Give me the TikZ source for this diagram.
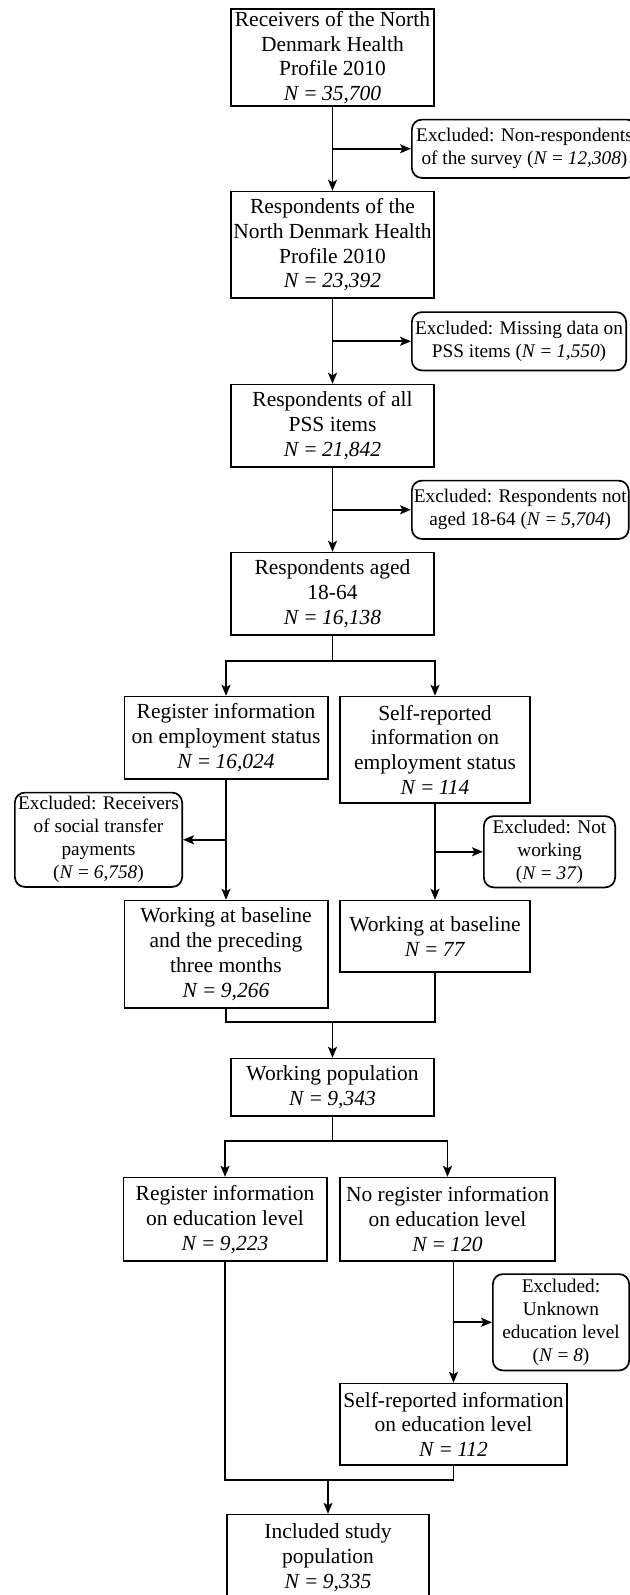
\documentclass[tikz,border=0pt]{standalone}
\usepackage{fontspec}
\setmainfont{Liberation Serif}
\usetikzlibrary{arrows.meta,positioning,calc}
\newcommand{\Nval}[1]{\textit{N} = \textit{#1}}

\begin{document}
\begin{tikzpicture}[
    x=1pt, y=1pt,
    box/.style={draw, line width=1.7pt, align=center, inner sep=2pt,
                minimum width=203.3pt, font=\fontsize{21.5pt}{24.8pt}\selectfont},
    excl/.style={draw, line width=1.7pt, align=center, inner sep=2pt,
                 rounded corners=10pt, font=\fontsize{19.3pt}{23pt}\selectfont},
    arr/.style={-{Stealth[length=11pt,width=9pt,inset=2.5pt]}, line width=1.7pt},
    conn/.style={line width=1.7pt},
  ]
  \useasboundingbox (0,0) rectangle (629,-1595);

  % Main flow
  \node[box, minimum height=95.3pt] (recv) at (332.5,-57.5) {Receivers of the North\\Denmark Health\\Profile 2010\\\Nval{35,700}};
  \node[box, minimum height=106.3pt, below=84pt of recv] (resp) {Respondents of the\\North Denmark Health\\Profile 2010\\\Nval{23,392}};
  \node[box, minimum height=82.3pt, below=85pt of resp] (pss) {Respondents of all\\PSS items\\\Nval{21,842}};
  \node[box, minimum height=82.3pt, below=84pt of pss] (aged) {Respondents aged\\18-64\\\Nval{16,138}};
  \node[box, minimum height=82.3pt, below=60pt of aged, xshift=-106.5pt] (regemp) {Register information\\on employment status\\\Nval{16,024}};
  \node[box, minimum width=190.3pt, minimum height=106.3pt, below=60pt of aged, xshift=102.5pt] (selfemp) {Self-reported\\information on\\employment status\\\Nval{114}};
  \node[box, minimum height=107.3pt, below=120pt of regemp] (workreg) {Working at baseline\\and the preceding\\three months\\\Nval{9,266}};
  \node[box, minimum width=190.3pt, minimum height=71.3pt, below=96pt of selfemp] (workself) {Working at baseline\\\Nval{77}};
  \node[box, minimum height=57.3pt, below=49pt of workreg, xshift=106.5pt] (workpop) {Working population\\\Nval{9,343}};
  \node[box, minimum height=83.3pt, below=60pt of workpop, xshift=-107.5pt] (regedu) {Register information\\on education level\\\Nval{9,223}};
  \node[box, minimum width=215.3pt, minimum height=83.3pt, right=11.5pt of regedu] (noregedu) {No register information\\on education level\\\Nval{120}};
  \node[box, minimum width=227.3pt, minimum height=81.3pt, below=121pt of noregedu, xshift=6pt] (selfedu) {Self-reported information\\on education level\\\Nval{112}};
  \node[box, minimum width=202.3pt, minimum height=86.3pt, below=48pt of selfedu, xshift=-125.5pt] (incl) {Included study\\population\\\Nval{9,335}};

  % Exclusions
  \node[excl, minimum width=225.3pt, minimum height=58.3pt, anchor=west] (exnon) at ($(recv.south)!.5!(resp.north)+(78.5,0)$) {Excluded: Non-respondents\\of the survey (\Nval{12,308})};
  \node[excl, minimum width=214.3pt, minimum height=58.3pt, anchor=west] (exmiss) at ($(resp.south)!.5!(pss.north)+(78.5,0)$) {Excluded: Missing data on\\PSS items (\Nval{1,550})};
  \node[excl, minimum width=214.3pt, minimum height=58.3pt, anchor=west] (exage) at ($(pss.south)!.5!(aged.north)+(78.5,0)$) {Excluded: Respondents not\\aged 18-64 (\Nval{5,704})};
  \node[excl, minimum width=167.3pt, minimum height=94.3pt, anchor=east] (exsoc) at ($(regemp.south)!.5!(workreg.north)+(-43,0)$) {Excluded: Receivers\\of social transfer\\payments\\(\Nval{6,758})};
  \node[excl, minimum width=131.3pt, minimum height=71.3pt, anchor=west] (exnotw) at ($(selfemp.south)!.5!(workself.north)+(48,0)$) {Excluded: Not\\working\\(\Nval{37})};
  \node[excl, minimum width=136.3pt, minimum height=96.3pt, anchor=west] (exedu) at ($(noregedu.south)!.5!(selfedu.north)+(41.5,0)$) {Excluded:\\Unknown\\education level\\(\Nval{8})};

  % Arrows
  \draw[arr] (recv) -- (resp);
  \draw[arr] (resp) -- (pss);
  \draw[arr] (pss) -- (aged);
  \draw[arr] (recv |- exnon.west) -- (exnon.west);
  \draw[arr] (resp |- exmiss.west) -- (exmiss.west);
  \draw[arr] (pss |- exage.west) -- (exage.west);

  \coordinate (split1) at ($(aged.south)+(0,-25)$);
  \draw[conn] (aged) -- (split1);
  \draw[arr] (split1) -| (regemp.north);
  \draw[arr] (split1) -| (selfemp.north);

  \draw[arr] (regemp) -- (workreg);
  \draw[arr] (regemp |- exsoc.east) -- (exsoc.east);
  \draw[arr] (selfemp) -- (workself);
  \draw[arr] (selfemp |- exnotw.west) -- (exnotw.west);

  \coordinate (join1) at ($(workpop.north)+(0,36)$);
  \draw[conn] (workreg.south) |- (join1) -| (workself.south);
  \draw[arr] (join1) -- (workpop.north);

  \coordinate (split2) at ($(workpop.south)+(0,-24)$);
  \draw[conn] (workpop) -- (split2);
  \draw[arr] (split2) -| (regedu.north);
  \draw[arr] (split2) -| (noregedu.north);

  \draw[arr] (noregedu.south -| selfedu.north) -- (selfedu.north);
  \draw[arr] (selfedu.north |- exedu.west) -- (exedu.west);

  \coordinate (join2) at ($(incl.north)+(0,34)$);
  \draw[conn] (regedu.south) |- (join2) -| (selfedu.south);
  \draw[arr] (join2) -- (incl.north);
\end{tikzpicture}
\end{document}
